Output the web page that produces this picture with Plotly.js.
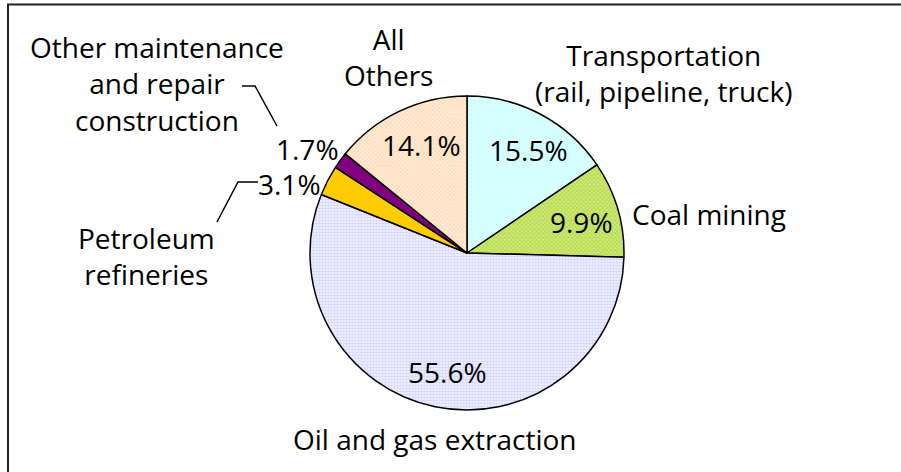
<!DOCTYPE html>
<html>
<head>
<meta charset="utf-8">
<script src="https://cdn.plot.ly/plotly-3.0.1.min.js"></script>
<style>html,body{margin:0;padding:0;background:#fff;}#chart{width:901px;height:472px;}</style>
</head>
<body>
<div id="chart"></div>
<script>
// Data
const categories = [
  "Transportation<br>(rail, pipeline, truck)",
  "Coal mining",
  "Oil and gas extraction",
  "Petroleum<br>refineries",
  "Other maintenance<br>and repair<br>construction",
  "All<br>Others"
];
const shares = [15.5, 9.9, 55.6, 3.1, 1.7, 14.1];
const sliceColors = ["#e2ffff", "#d2e98a", "#f4f4ff", "#ffcc00", "#800080", "#ffeedd"];
const patternColors = ["#b0ffff", "#99cc00", "#b8b8ff", "#ffcc00", "#800080", "#ffc890"];
const patternShapes = ["x", "x", ".", "", "", "x"];

const W = 901, H = 472;
const px = x => x / W;
const py = y => 1 - y / H;

// label block centres (pixels) per category: [x, y, anchor]
const labelPos = [
  [664, 72.5, "center"],
  [630, 213, "left"],
  [435, 438, "center"],
  [146, 255, "center"],
  [157, 83, "center"],
  [388, 56, "center"]
];
const pctPos = [[528, 149], [581, 221], [447, 371], [289, 183], [307, 148], [421, 143.5]];

const font = {family: "Open Sans, sans-serif", size: 28, color: "#000"};
const annotations = [];
categories.forEach((c, i) => {
  annotations.push({
    text: c, xref: "paper", yref: "paper",
    x: px(labelPos[i][0]), y: py(labelPos[i][1] + 1),
    xanchor: labelPos[i][2], yanchor: "middle", align: "center",
    showarrow: false, font: font
  });
  annotations.push({
    text: shares[i].toFixed(1) + "%", xref: "paper", yref: "paper",
    x: px(pctPos[i][0]), y: py(pctPos[i][1] + 1),
    xanchor: "center", yanchor: "middle", showarrow: false, font: font
  });
});

const path = pts => pts.map((p, j) => (j ? "L" : "M") + px(p[0]) + "," + py(p[1])).join(" ");

const trace = {
  type: "pie",
  values: shares,
  labels: categories,
  sort: false,
  direction: "clockwise",
  rotation: 0,
  textinfo: "none",
  hoverinfo: "label+percent",
  showlegend: false,
  domain: {x: [px(467 - 157), px(467 + 157)], y: [py(253 + 157), py(253 - 157)]},
  marker: {
    colors: sliceColors,
    line: {color: "#000", width: 1.5},
    pattern: {
      shape: patternShapes,
      fgcolor: patternColors,
      bgcolor: sliceColors,
      size: 3,
      solidity: 0.55,
      fillmode: "overlay"
    }
  }
};

const layout = {
  width: W, height: H,
  margin: {l: 0, r: 0, t: 0, b: 0},
  paper_bgcolor: "#fff",
  annotations: annotations,
  shapes: [
    {type: "rect", xref: "paper", yref: "paper", x0: px(8), x1: px(920), y0: py(4.5), y1: py(490),
     line: {color: "#222", width: 2}, fillcolor: "rgba(0,0,0,0)"},
    {type: "path", xref: "paper", yref: "paper", path: path([[242, 86], [255, 86], [277, 126]]),
     line: {color: "#000", width: 1.5}},
    {type: "path", xref: "paper", yref: "paper", path: path([[258, 182], [238, 182], [217, 222]]),
     line: {color: "#000", width: 1.5}}
  ]
};

Plotly.newPlot("chart", [trace], layout, {displayModeBar: false, staticPlot: true});
</script>
</body>
</html>
